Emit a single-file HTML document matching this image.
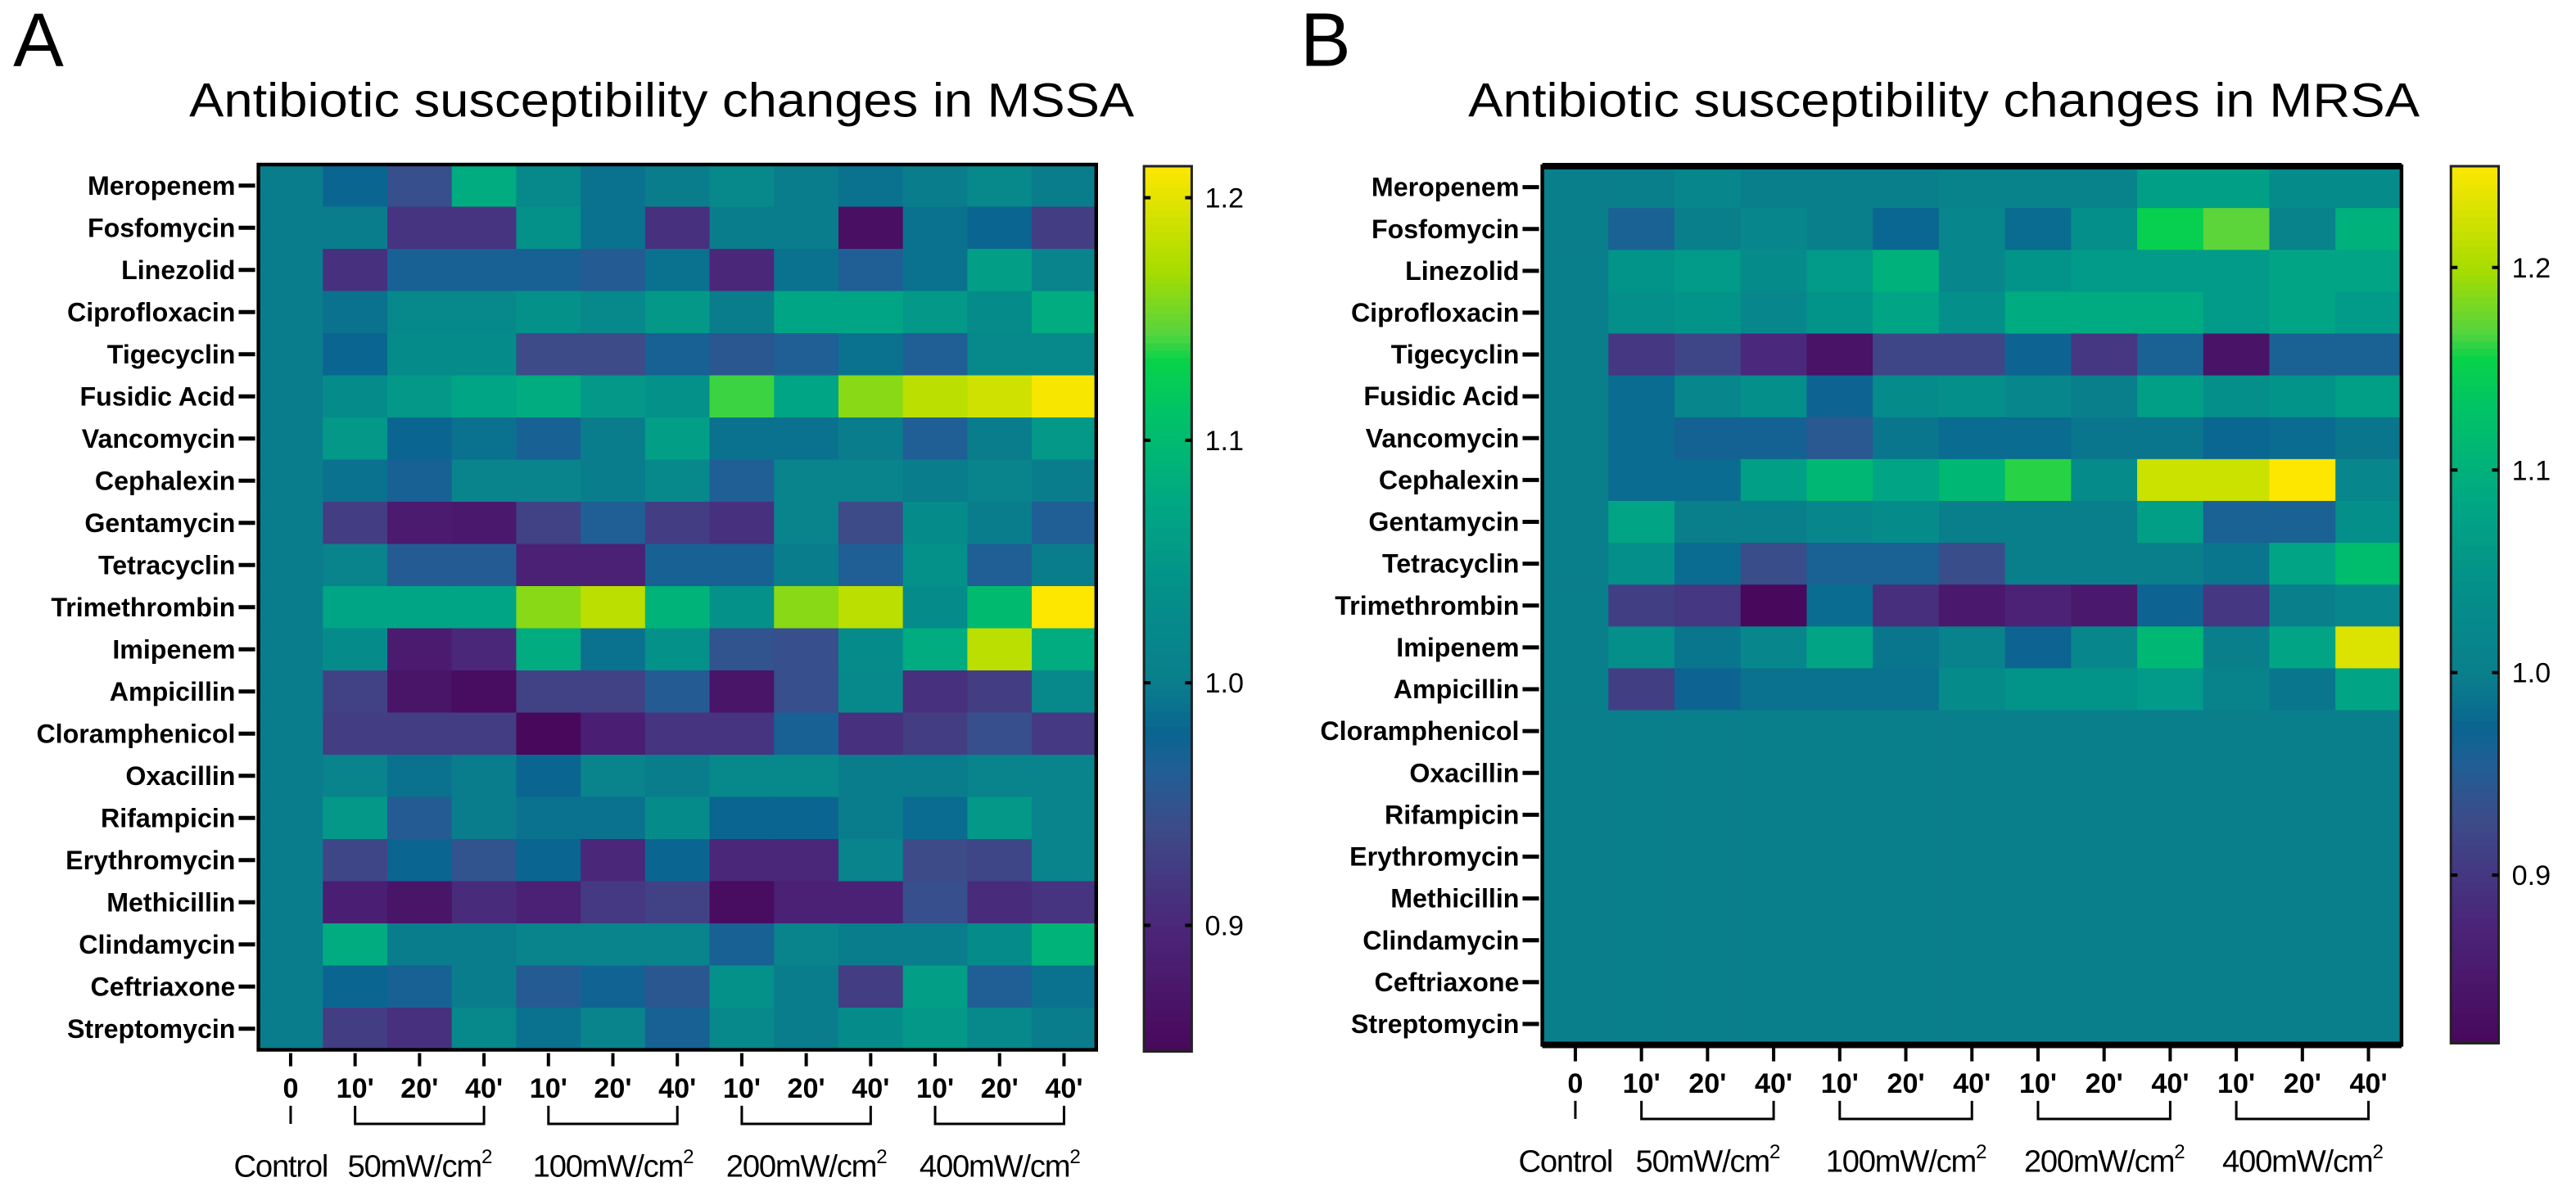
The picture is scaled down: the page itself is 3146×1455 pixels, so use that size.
<!DOCTYPE html>
<html><head><meta charset="utf-8"><style>
html,body{margin:0;padding:0;background:#fff;}
svg{display:block;font-family:"Liberation Sans",Arial,sans-serif;}
</style></head><body>
<svg id="fig" width="3146" height="1455" viewBox="0 0 1565 723.8" preserveAspectRatio="none" xmlns="http://www.w3.org/2000/svg"></svg>
<script>
const rows = ["Meropenem","Fosfomycin","Linezolid","Ciprofloxacin","Tigecyclin","Fusidic Acid","Vancomycin","Cephalexin","Gentamycin","Tetracyclin","Trimethrombin","Imipenem","Ampicillin","Cloramphenicol","Oxacillin","Rifampicin","Erythromycin","Methicillin","Clindamycin","Ceftriaxone","Streptomycin"];
const cols = ["0","10'","20'","40'","10'","20'","40'","10'","20'","40'","10'","20'","40'"];
const groupLabels = ["Control","50mW/cm","100mW/cm","200mW/cm","400mW/cm"];
const groupStart = [0,1,4,7,10];
const groupEnd = [0,3,6,9,12];
const ticksA = [0.9,1.0,1.1,1.2];
const ticksB = [0.9,1.0,1.1,1.2];
const rangeA = [0.848,1.213];
const rangeB = [0.817,1.25];
const valuesA = [
[1.0,0.98,0.945,1.08,1.02,0.99,1.0,1.02,1.0,0.99,1.0,1.02,1.0],
[1.0,1.0,0.915,0.915,1.04,0.99,0.91,1.0,1.0,0.86,0.99,0.98,0.925],
[1.0,0.91,0.97,0.97,0.97,0.96,0.99,0.9,0.99,0.965,0.99,1.06,1.01],
[1.0,0.99,1.02,1.02,1.04,1.02,1.05,1.0,1.07,1.07,1.05,1.03,1.08],
[1.0,0.98,1.03,1.03,0.94,0.94,0.97,0.955,0.965,0.99,0.965,1.02,1.02],
[1.0,1.03,1.05,1.07,1.08,1.05,1.04,1.14,1.07,1.16,1.18,1.19,1.21],
[1.0,1.05,0.98,0.99,0.97,1.0,1.06,0.99,0.99,1.0,0.965,1.0,1.05],
[1.0,0.99,0.97,1.01,1.01,1.0,1.02,0.965,1.01,1.01,1.0,1.01,1.0],
[1.0,0.925,0.88,0.875,0.93,0.965,0.925,0.91,1.01,0.94,1.03,1.0,0.965],
[1.0,1.01,0.96,0.96,0.89,0.89,0.97,0.97,1.0,0.965,1.04,0.965,1.0],
[1.0,1.07,1.07,1.07,1.16,1.18,1.09,1.04,1.16,1.18,1.03,1.1,1.213],
[1.0,1.03,0.88,0.9,1.08,0.99,1.04,0.95,0.945,1.03,1.08,1.18,1.08],
[1.0,0.93,0.87,0.855,0.93,0.93,0.96,0.87,0.945,1.02,0.91,0.925,1.02],
[1.0,0.925,0.925,0.925,0.85,0.885,0.915,0.915,0.97,0.91,0.925,0.945,0.92],
[1.0,1.01,0.99,1.0,0.98,1.01,1.0,1.02,1.02,1.0,1.0,1.01,1.01],
[1.0,1.05,0.96,1.0,0.99,0.99,1.03,0.98,0.98,1.0,0.985,1.05,1.01],
[1.0,0.935,0.98,0.95,0.98,0.9,0.98,0.9,0.9,1.01,0.94,0.935,1.01],
[1.0,0.885,0.87,0.905,0.89,0.92,0.93,0.855,0.89,0.89,0.945,0.905,0.915],
[1.0,1.08,1.0,1.0,1.01,1.01,1.01,0.97,1.01,1.0,1.0,1.03,1.09],
[1.0,0.98,0.97,1.0,0.96,0.975,0.955,1.04,1.0,0.925,1.06,0.965,0.99],
[1.0,0.925,0.91,1.02,0.99,1.01,0.97,1.02,1.0,1.03,1.05,1.02,1.0]
];
const valuesB = [
[1.0,1.0,1.02,1.0,1.0,1.0,1.01,1.01,1.01,1.07,1.07,1.03,1.03],
[1.0,0.96,1.0,1.02,1.0,0.975,1.02,0.98,1.04,1.15,1.17,1.01,1.1],
[1.0,1.05,1.06,1.03,1.06,1.1,1.02,1.05,1.06,1.06,1.06,1.08,1.08],
[1.0,1.04,1.05,1.02,1.05,1.08,1.04,1.09,1.09,1.09,1.06,1.08,1.06],
[1.0,0.9,0.92,0.88,0.84,0.92,0.92,0.97,0.9,0.96,0.84,0.96,0.96],
[1.0,0.98,1.02,1.04,0.97,1.03,1.04,1.02,1.0,1.07,1.04,1.05,1.07],
[1.0,0.98,0.965,0.965,0.945,0.99,0.98,0.98,0.99,0.99,0.975,0.98,0.99],
[1.0,0.98,0.98,1.07,1.11,1.08,1.11,1.16,1.03,1.22,1.22,1.25,1.02],
[1.0,1.08,1.0,1.0,1.02,1.03,1.0,1.0,1.0,1.07,0.96,0.96,1.04],
[1.0,1.04,0.98,0.93,0.96,0.96,0.93,1.0,1.0,1.0,0.99,1.08,1.12],
[1.0,0.91,0.9,0.82,0.98,0.89,0.85,0.87,0.85,0.97,0.9,1.0,1.02],
[1.0,1.04,0.99,1.02,1.08,0.99,1.01,0.97,1.02,1.11,1.0,1.08,1.23],
[1.0,0.91,0.97,0.985,0.985,0.985,1.03,1.05,1.05,1.06,1.01,0.99,1.08],
[1.0,1.0,1.0,1.0,1.0,1.0,1.0,1.0,1.0,1.0,1.0,1.0,1.0],
[1.0,1.0,1.0,1.0,1.0,1.0,1.0,1.0,1.0,1.0,1.0,1.0,1.0],
[1.0,1.0,1.0,1.0,1.0,1.0,1.0,1.0,1.0,1.0,1.0,1.0,1.0],
[1.0,1.0,1.0,1.0,1.0,1.0,1.0,1.0,1.0,1.0,1.0,1.0,1.0],
[1.0,1.0,1.0,1.0,1.0,1.0,1.0,1.0,1.0,1.0,1.0,1.0,1.0],
[1.0,1.0,1.0,1.0,1.0,1.0,1.0,1.0,1.0,1.0,1.0,1.0,1.0],
[1.0,1.0,1.0,1.0,1.0,1.0,1.0,1.0,1.0,1.0,1.0,1.0,1.0],
[1.0,1.0,1.0,1.0,1.0,1.0,1.0,1.0,1.0,1.0,1.0,1.0,1.0]
];

const NS="http://www.w3.org/2000/svg";
const svg=document.getElementById('fig');
const stops=[[0,[72,8,92]],[0.14,[75,38,122]],[0.25,[62,74,137]],[0.32,[31,95,149]],[0.36,[10,101,145]],[0.42,[10,127,140]],[0.52,[4,144,138]],[0.62,[0,168,132]],[0.72,[0,194,104]],[0.78,[8,210,74]],[0.81,[85,212,62]],[0.88,[166,220,0]],[1,[253,231,0]]];
function cmap(t){t=Math.max(0,Math.min(1,t));for(let i=1;i<stops.length;i++){if(t<=stops[i][0]){const a=stops[i-1],b=stops[i];const f=(t-a[0])/(b[0]-a[0]);const c=a[1].map((v,k)=>Math.round(v+(b[1][k]-v)*f));return `rgb(${c[0]},${c[1]},${c[2]})`;}}return 'rgb(253,231,0)';}
function el(tag,attrs,parent){const e=document.createElementNS(NS,tag);for(const k in attrs)e.setAttribute(k,attrs[k]);(parent||svg).appendChild(e);return e;}

function panel(p){
  const g=el('g',{});
  
  
  const L=el('text',{x:p.letterX,y:40,'font-size':46},g);L.textContent=p.letter;
  
  
  const T=el('text',{x:p.titleX,y:71,'font-size':29,textLength:p.titleW,lengthAdjust:'spacingAndGlyphs'},g);T.textContent=p.title;
  
  
  const nR=rows.length,nC=cols.length;
  const cw=(p.x1-p.x0)/nC, rh=(p.y1-p.y0)/nR;
  const xc=c=>p.x0+cw*(c+0.5), yc=r=>p.y0+rh*(r+0.5);
  const tval=v=>(v-p.range[0])/(p.range[1]-p.range[0]);
  for(let r=0;r<nR;r++){
    for(let c=0;c<nC;c++){
      const cell=el('rect',{x:p.x0+cw*c,y:p.y0+rh*r,width:cw+0.4,height:rh+0.4,fill:cmap(tval(p.values[r][c]))},g);
      
      
    }
    const lab=el('text',{x:p.x0-14,y:yc(r)+5.5,'font-size':16,'font-weight':'bold','text-anchor':'end'},g);lab.textContent=rows[r];
    
    
    el('line',{x1:p.x0-12,x2:p.x0-2,y1:yc(r),y2:yc(r),stroke:'#000','stroke-width':2.5},g);
  }
  const fr=el('rect',{x:p.x0,y:p.y0,width:p.x1-p.x0,height:p.y1-p.y0,fill:'none',stroke:'#000','stroke-width':2.2},g);
  
  
  if(p.thick){el('line',{x1:p.x0,x2:p.x1,y1:p.y0,y2:p.y0,stroke:'#000','stroke-width':4},g);el('line',{x1:p.x0,x2:p.x1,y1:p.y1,y2:p.y1,stroke:'#000','stroke-width':4},g);}
  for(let c=0;c<nC;c++){
    el('line',{x1:xc(c),x2:xc(c),y1:p.y1+2,y2:p.y1+10,stroke:'#000','stroke-width':2},g);
    const t=el('text',{x:xc(c),y:p.y1+29,'font-size':17,'font-weight':'bold','text-anchor':'middle'},g);t.textContent=cols[c];
    
    
  }
  for(let i=0;i<groupLabels.length;i++){
    const a=xc(groupStart[i]),b=xc(groupEnd[i]);
    const yT=p.y1+34,yB=p.y1+45;
    if(a===b){el('line',{x1:a,x2:a,y1:yT,y2:yB,stroke:'#000','stroke-width':1.5},g);}
    else{el('path',{d:`M${a},${yT}V${yB}H${b}V${yT}`,fill:'none',stroke:'#000','stroke-width':1.5},g);}
    const gl=el('text',{x:(a+b)/2+(i===0?-6:0),y:p.y1+77,'font-size':19,'text-anchor':'middle','letter-spacing':-0.6},g);
    gl.textContent=groupLabels[i];
    if(i>0){const s=el('tspan',{'font-size':12,dy:-8},gl);s.textContent='2';}
    
    
  }
  const cb=el('g',{},g);
  
  
  const N=120,h=(p.cy1-p.cy0)/N;
  for(let i=0;i<N;i++){const v=p.range[1]-(i+0.5)/N*(p.range[1]-p.range[0]);el('rect',{x:p.cx0,y:p.cy0+h*i,width:p.cx1-p.cx0,height:h+0.5,fill:cmap(tval(v))},cb);}
  el('rect',{x:p.cx0,y:p.cy0,width:p.cx1-p.cx0,height:p.cy1-p.cy0,fill:'none',stroke:'#222','stroke-width':1.5},cb);
  const cyv=v=>p.cy0+(p.range[1]-v)/(p.range[1]-p.range[0])*(p.cy1-p.cy0);
  p.ticks.forEach(v=>{const y=cyv(v);
    el('line',{x1:p.cx0,x2:p.cx0+4,y1:y,y2:y,stroke:'#000','stroke-width':2},cb);
    el('line',{x1:p.cx1-4,x2:p.cx1,y1:y,y2:y,stroke:'#000','stroke-width':2},cb);
    const t=el('text',{x:p.cx1+8,y:y+6,'font-size':17},cb);t.textContent=v.toFixed(1);
    
    
  });
}
panel({id:'mssa',letter:'A',letterX:8,title:'Antibiotic susceptibility changes in MSSA',titleX:115,titleW:574,x0:157,x1:666,y0:100,y1:638,values:valuesA,range:rangeA,ticks:ticksA,cx0:695,cx1:724,cy0:101,cy1:639,thick:false});
panel({id:'mrsa',letter:'B',letterX:790,title:'Antibiotic susceptibility changes in MRSA',titleX:892,titleW:578,x0:937,x1:1459,y0:101,y1:635,values:valuesB,range:rangeB,ticks:ticksB,cx0:1489,cx1:1518,cy0:101,cy1:634,thick:true});
</script>
</body></html>
